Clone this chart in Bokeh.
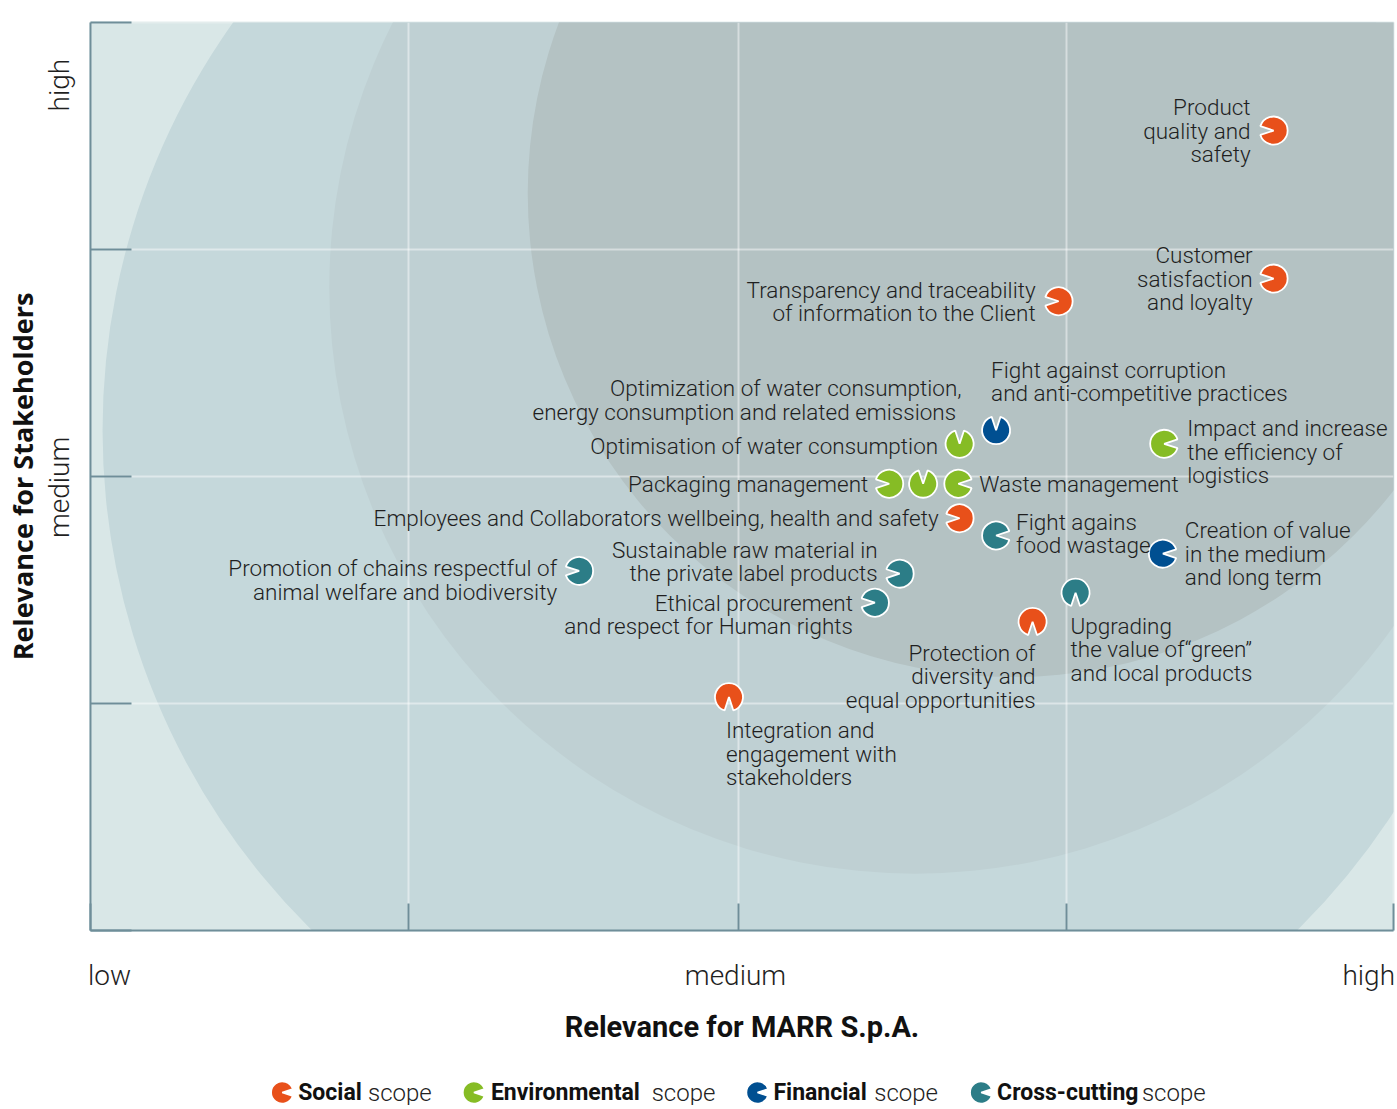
from bokeh.plotting import figure
from bokeh.models import ColumnDataSource, Range1d, LinearAxis, FixedTicker, Grid, Label
from bokeh.layouts import column
from bokeh.core.properties import value
from bokeh.embed import file_html
from bokeh.resources import INLINE
import math

# ---------------- data ----------------
topics = [
    "Product\nquality and\nsafety",
    "Customer\nsatisfaction\nand loyalty",
    "Transparency and traceability\nof information to the Client",
    "Fight against corruption\nand anti-competitive practices",
    "Optimization of water consumption,\nenergy consumption and  related emissions",
    "Optimisation of water consumption",
    "Packaging management",
    "Waste management",
    "Impact and increase\nthe efficiency of\nlogistics",
    "Employees and Collaborators wellbeing, health and safety",
    "Fight agains\nfood wastage",
    "Creation of value\nin the medium\nand long term",
    "Promotion of chains respectful of\nanimal welfare and biodiversity",
    "Sustainable raw material in\nthe private label products",
    "Ethical procurement\nand respect for Human rights",
    "Upgrading\nthe value of\u201cgreen\u201d\nand local products",
    "Protection of\ndiversity and\nequal opportunities",
    "Integration and\nengagement with\nstakeholders",
]
relevance_marr = [9.08, 9.08, 7.43, 6.95, 6.67, 6.39, 6.13, 6.66, 8.24,
                  6.67, 6.95, 8.23, 3.75, 6.21, 6.02, 7.56, 7.23, 4.90]
relevance_stakeholders = [8.81, 7.18, 6.93, 5.51, 5.36, 4.92, 4.92, 4.92, 5.36,
                          4.54, 4.35, 4.15, 3.96, 3.93, 3.61, 3.72, 3.40, 2.57]
scope = ["Social", "Social", "Social", "Financial", "Environmental", "Environmental",
         "Environmental", "Environmental", "Environmental", "Social", "Cross-cutting",
         "Financial", "Cross-cutting", "Cross-cutting", "Cross-cutting", "Cross-cutting",
         "Social", "Social"]
# side of the marker that faces its label
label_side = ["L", "L", "L", "T", "T", "T", "L", "R", "R",
              "L", "R", "R", "L", "L", "L", "B", "B", "B"]

scopes = ["Social", "Environmental", "Financial", "Cross-cutting"]
scope_colors = ["#E8501A", "#86BC25", "#004F91", "#2C7D87"]

x_tick_labels = ["low", "medium", "high"]
x_tick_pos = [0.146, 4.95, 9.81]
y_tick_labels = ["high", "medium"]
y_tick_pos = [9.31, 4.88]
grid_x = [2.44, 4.97, 7.49]
grid_y = [2.5, 5.0, 7.5]

# ---------------- layout / style ----------------
slate = "#6F8E99"
light_font = "Roboto Light, Roboto"
label_font = value(light_font)
txt_color = "#1f1f1f"

side_angle = {"L": math.pi, "R": 0.0, "T": math.pi / 2, "B": -math.pi / 2}
half_notch = 0.32
# label anchors (screen px, relative to marker; y down)
label_layout = {
    0: (-23, 0, "right", "middle"),
    1: (-21, 0, "right", "middle"),
    2: (-23, 0, "right", "middle"),
    3: (-5, -24, "left", "bottom"),
    4: (2, -19, "right", "bottom"),
    5: (15, -38, "right", "middle"),
    6: (-21, 0, "right", "middle"),
    7: (21, 0, "left", "middle"),
    8: (23, 8, "left", "middle"),
    9: (-21, 0, "right", "middle"),
    10: (20, -2, "left", "middle"),
    11: (22, 0, "left", "middle"),
    12: (-22, 9, "right", "middle"),
    13: (-22, -12, "right", "middle"),
    14: (-22, 12, "right", "middle"),
    15: (-5, 20, "left", "top"),
    16: (3, 18, "right", "top"),
    17: (-3, 20, "left", "top"),
}

color_of = dict(zip(scopes, scope_colors))
n = len(topics)
src = ColumnDataSource(dict(
    x=relevance_marr,
    y=relevance_stakeholders,
    label=topics,
    color=[color_of[s] for s in scope],
    start=[side_angle[s] + half_notch for s in label_side],
    end=[side_angle[s] - half_notch for s in label_side],
    dx=[label_layout[i][0] for i in range(n)],
    dy=[label_layout[i][1] for i in range(n)],
    align=[label_layout[i][2] for i in range(n)],
    baseline=[label_layout[i][3] for i in range(n)],
))

p = figure(width=1397, height=1047, x_range=Range1d(0, 10), y_range=Range1d(0, 10),
           x_axis_type=None, y_axis_type=None, toolbar_location=None, output_backend="svg",
           min_border_left=88, min_border_right=4, min_border_top=22, min_border_bottom=117,
           background_fill_color="#D9E7E7", border_fill_color="white",
           outline_line_color="#E4EDED", outline_line_width=2)

# background concentric zones
zones = ColumnDataSource(dict(x=[5.48, 6.33, 7.07], y=[5.51, 7.08, 8.12], r=[702, 586, 484],
                              c=["#C5D8DB", "#BFD0D3", "#B4C2C3"]))
p.circle(x="x", y="y", radius="r", radius_units="screen", fill_color="c", line_color=None,
         source=zones, level="image")

for dim, ticks in ((0, grid_x), (1, grid_y)):
    g = Grid(dimension=dim, ticker=FixedTicker(ticks=ticks), grid_line_color="white",
             grid_line_alpha=0.45, grid_line_width=2)
    p.add_layout(g)

# axes
xaxis = LinearAxis(ticker=FixedTicker(ticks=x_tick_pos, minor_ticks=[0] + grid_x + [10]),
                   major_label_overrides={t: l for t, l in zip(x_tick_pos, x_tick_labels)},
                   axis_line_color=slate, axis_line_width=2,
                   major_tick_line_color=None, major_tick_in=0, major_tick_out=0,
                   minor_tick_line_color=slate, minor_tick_line_width=2,
                   minor_tick_in=27, minor_tick_out=0,
                   major_label_standoff=28, major_label_text_font=light_font,
                   major_label_text_font_size="28px", major_label_text_color=txt_color,
                   axis_label="Relevance for MARR S.p.A.", axis_label_standoff=15,
                   axis_label_text_font="Roboto", axis_label_text_font_style="bold",
                   axis_label_text_font_size="29px", axis_label_text_color="#111111")
p.add_layout(xaxis, "below")

yaxis = LinearAxis(ticker=FixedTicker(ticks=y_tick_pos, minor_ticks=[0] + grid_y + [10]),
                   major_label_overrides={t: l for t, l in zip(y_tick_pos, y_tick_labels)},
                   major_label_orientation="parallel",
                   axis_line_color=slate, axis_line_width=2,
                   major_tick_line_color=None, major_tick_in=0, major_tick_out=0,
                   minor_tick_line_color=slate, minor_tick_line_width=2,
                   minor_tick_in=41, minor_tick_out=0,
                   major_label_standoff=14, major_label_text_font=light_font,
                   major_label_text_font_size="28px", major_label_text_color=txt_color,
                   axis_label="Relevance for Stakeholders", axis_label_standoff=0,
                   axis_label_text_font="Open Sans", axis_label_text_font_style="bold",
                   axis_label_text_font_size="27px", axis_label_text_color="#111111")
p.add_layout(yaxis, "left")

# small arrow head at the top of the vertical axis
p.add_layout(Label(x=0, y=10, x_units="data", y_units="data", text="\u2191",
                   text_align="center", text_baseline="bottom", y_offset=-2,
                   text_font="DejaVu Sans", text_font_size="15px", text_color=slate))

# markers
p.wedge(x="x", y="y", radius=14, radius_units="screen", start_angle="start", end_angle="end",
        direction="anticlock", fill_color="color", line_color="white", line_width=1.8, source=src)
p.text(x="x", y="y", text="label", x_offset="dx", y_offset="dy", text_align="align",
       text_baseline="baseline", text_font=label_font, text_font_size="22.5px",
       text_color=txt_color, text_line_height=0.9, source=src)

# ---------------- legend (separate strip) ----------------
leg = figure(width=1397, height=58, x_range=Range1d(88, 1393), y_range=Range1d(0, 58),
             x_axis_type=None, y_axis_type=None, toolbar_location=None, output_backend="svg",
             min_border_left=88, min_border_right=4, min_border_top=0, min_border_bottom=0,
             outline_line_color=None, background_fill_color="white", border_fill_color="white")
leg_marker_x = [280, 472, 756, 980]
leg_bold_x = [296, 489, 772, 996]
leg_scope_x = [366, 650, 873, 1141]
leg_y = 13
lsrc = ColumnDataSource(dict(x=leg_marker_x, y=[leg_y] * 4, c=scope_colors,
                             bx=leg_bold_x, sx=leg_scope_x, name=scopes,
                             scope_word=["scope"] * 4))
leg.wedge(x="x", y="y", radius=11, radius_units="screen", start_angle=half_notch,
          end_angle=-half_notch, direction="anticlock", fill_color="c", line_color="white",
          line_width=1.5, source=lsrc)
leg.text(x="bx", y="y", text="name", text_baseline="middle", text_align="left",
         text_font=value("Roboto"), text_font_style="bold", text_font_size="23px",
         text_color="#111111", source=lsrc)
leg.text(x="sx", y="y", text="scope_word", text_baseline="middle", text_align="left",
         text_font=label_font, text_font_size="24px",
         text_color="#222222", source=lsrc)

layout = column(p, leg, spacing=0)
open("out.html", "w").write(file_html(layout, INLINE))
